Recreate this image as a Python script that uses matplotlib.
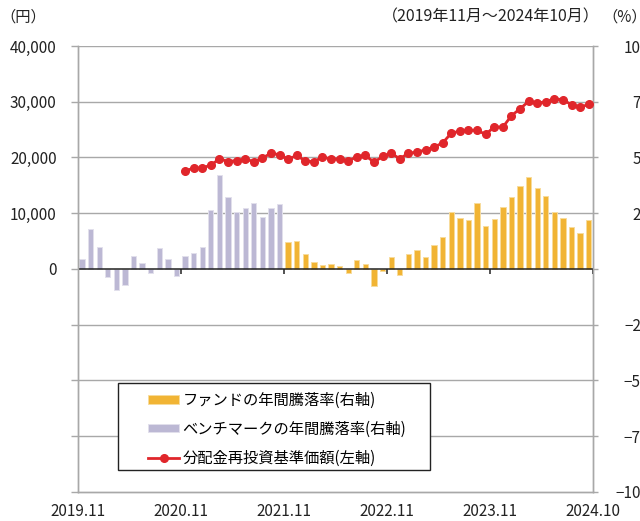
import numpy as np
import matplotlib
matplotlib.use('Agg')
import matplotlib.pyplot as plt
from matplotlib.ticker import FuncFormatter
from matplotlib.patches import Rectangle

plt.rcParams['font.family'] = ['Noto Sans CJK JP', 'DejaVu Sans']

# monthly categories 2019.11 - 2024.10 (60 months)
n_months = 60
xtick_pos = [0, 12, 24, 36, 48, 60]
xtick_labels = ['2019.11', '2020.11', '2021.11', '2022.11', '2023.11', '2024.10']

# benchmark annual return (%), 2019.11 - 2021.10
bench = [4.5, 18.0, 10.0, -3.7, -9.4, -7.2, 5.8, 2.8, -1.9, 9.6, 4.6, -3.0,
         5.7, 7.3, 9.9, 26.3, 42.1, 32.3, 25.6, 27.2, 29.6, 23.5, 27.4, 29.3]
# fund annual return (%), 2021.11 - 2024.10
fund = [12.0, 12.6, 6.7, 3.1, 1.8, 2.2, 1.3, -1.6, 4.2, 2.2, -7.5, -1.0,
        5.4, -2.7, 6.7, 8.4, 5.5, 10.9, 14.2, 25.4, 22.9, 21.9, 29.6, 19.5,
        22.5, 27.8, 32.2, 37.4, 41.2, 36.1, 32.8, 25.4, 22.9, 18.9, 16.3, 22.0]
# NAV incl. reinvested distributions (yen), 2020.11 - 2024.10
nav = [17600, 18080, 18140, 18620, 19760, 19280, 19460, 19700, 19280, 19880,
       20780, 20480, 19700, 20360, 19400, 19220, 20120, 19700, 19760, 19400,
       20120, 20360, 19160, 20180, 20780, 19760, 20780, 20960, 21380, 21860,
       22630, 24370, 24730, 24850, 24910, 24130, 25510, 25450, 27490, 28740,
       30060, 29760, 30000, 30540, 30360, 29460, 29040, 29520]

bench_start = 0
fund_start = n_months - len(fund)
nav_start = n_months - len(nav)

orange = '#F1B434'
purple = '#BCB8D4'
red = '#E0262B'
grid_c = '#A8A8A8'
txt_c = '#222222'

fig = plt.figure(figsize=(6.4, 5.21), dpi=100)
ax = fig.add_axes([0.1214, 0.0557, 0.8052, 0.856])
ax2 = ax.twinx()
ax.set_zorder(ax2.get_zorder() + 1)
ax.patch.set_visible(False)

ax.set_xlim(0, n_months)
ax.set_ylim(-40000, 40000)
ax2.set_ylim(-100, 100)

# gridlines (right axis units) behind bars
for v in np.arange(-75, 101, 25):
    if v != 0:
        ax2.axhline(v, color=grid_c, lw=1, zorder=0)

xb = np.arange(bench_start, bench_start + len(bench)) + 0.5
xf = np.arange(fund_start, fund_start + len(fund)) + 0.5
xn = np.arange(nav_start, nav_start + len(nav)) + 0.5

b1 = ax2.bar(xf, fund, width=0.62, color=orange, edgecolor='#F8DC9C',
             linewidth=0.7, zorder=2, label='ファンドの年間騰落率(右軸)')
b2 = ax2.bar(xb, bench, width=0.62, color=purple, edgecolor='#E2E0EC',
             linewidth=0.7, zorder=2, label='ベンチマークの年間騰落率(右軸)')
ax2.axhline(0, color=txt_c, lw=1.1, zorder=3)
ax2.vlines(xtick_pos, -2.3, 0, color=txt_c, lw=1.1, zorder=3)

l1, = ax.plot(xn, nav, color=red, lw=2, marker='o', markersize=5.5,
              zorder=5, label='分配金再投資基準価額(左軸)')

# left axis
ax.set_yticks(np.arange(-40000, 40001, 10000))
ax.yaxis.set_major_formatter(FuncFormatter(lambda v, p: f'{int(v):,}' if v >= 0 else ''))
ax.tick_params(axis='y', length=4.7, width=1, color=grid_c, pad=10.5,
               labelsize=11, labelcolor=txt_c)
for t, v in zip(ax.yaxis.get_major_ticks(), ax.get_yticks()):
    if v == 0:
        t.tick1line.set_color(txt_c)

# right axis
ax2.set_yticks(np.arange(-100, 101, 25))
ax2.tick_params(axis='y', length=3.6, width=1, color=grid_c, pad=37,
                labelsize=11, labelcolor=txt_c)
for lbl in ax2.get_yticklabels():
    lbl.set_ha('right')

# x axis
ax.set_xticks(xtick_pos)
ax.set_xticklabels(xtick_labels)
ax.tick_params(axis='x', length=0, pad=8, labelsize=11, labelcolor=txt_c)

for a in (ax, ax2):
    for s in a.spines.values():
        s.set_color(grid_c)
        s.set_linewidth(1)
ax.spines['top'].set_visible(False)
ax2.spines['top'].set_visible(False)

# legend box + entries
box = Rectangle((0.0782, 0.0493), 0.6055, 0.1951, transform=ax.transAxes,
                facecolor='white', edgecolor=txt_c, lw=1, zorder=8)
ax.add_patch(box)
leg = ax.legend(handles=[b1, b2, l1], loc='center left',
                bbox_to_anchor=(0.1367, 0.1406), fontsize=11, frameon=False,
                handlelength=2.05, handleheight=0.45, handletextpad=0.2,
                borderpad=0, labelspacing=0.78, borderaxespad=0)
leg.set_zorder(10)

fig.text(0.0, 0.967, '（円）', fontsize=11, va='center', color=txt_c)
fig.text(0.937, 0.967, '（2019年11月～2024年10月）', fontsize=11.5,
         va='center', ha='right', color=txt_c)
fig.text(0.941, 0.967, '（%）', fontsize=11, va='center', color=txt_c)

fig.savefig('out.png', dpi=100)
